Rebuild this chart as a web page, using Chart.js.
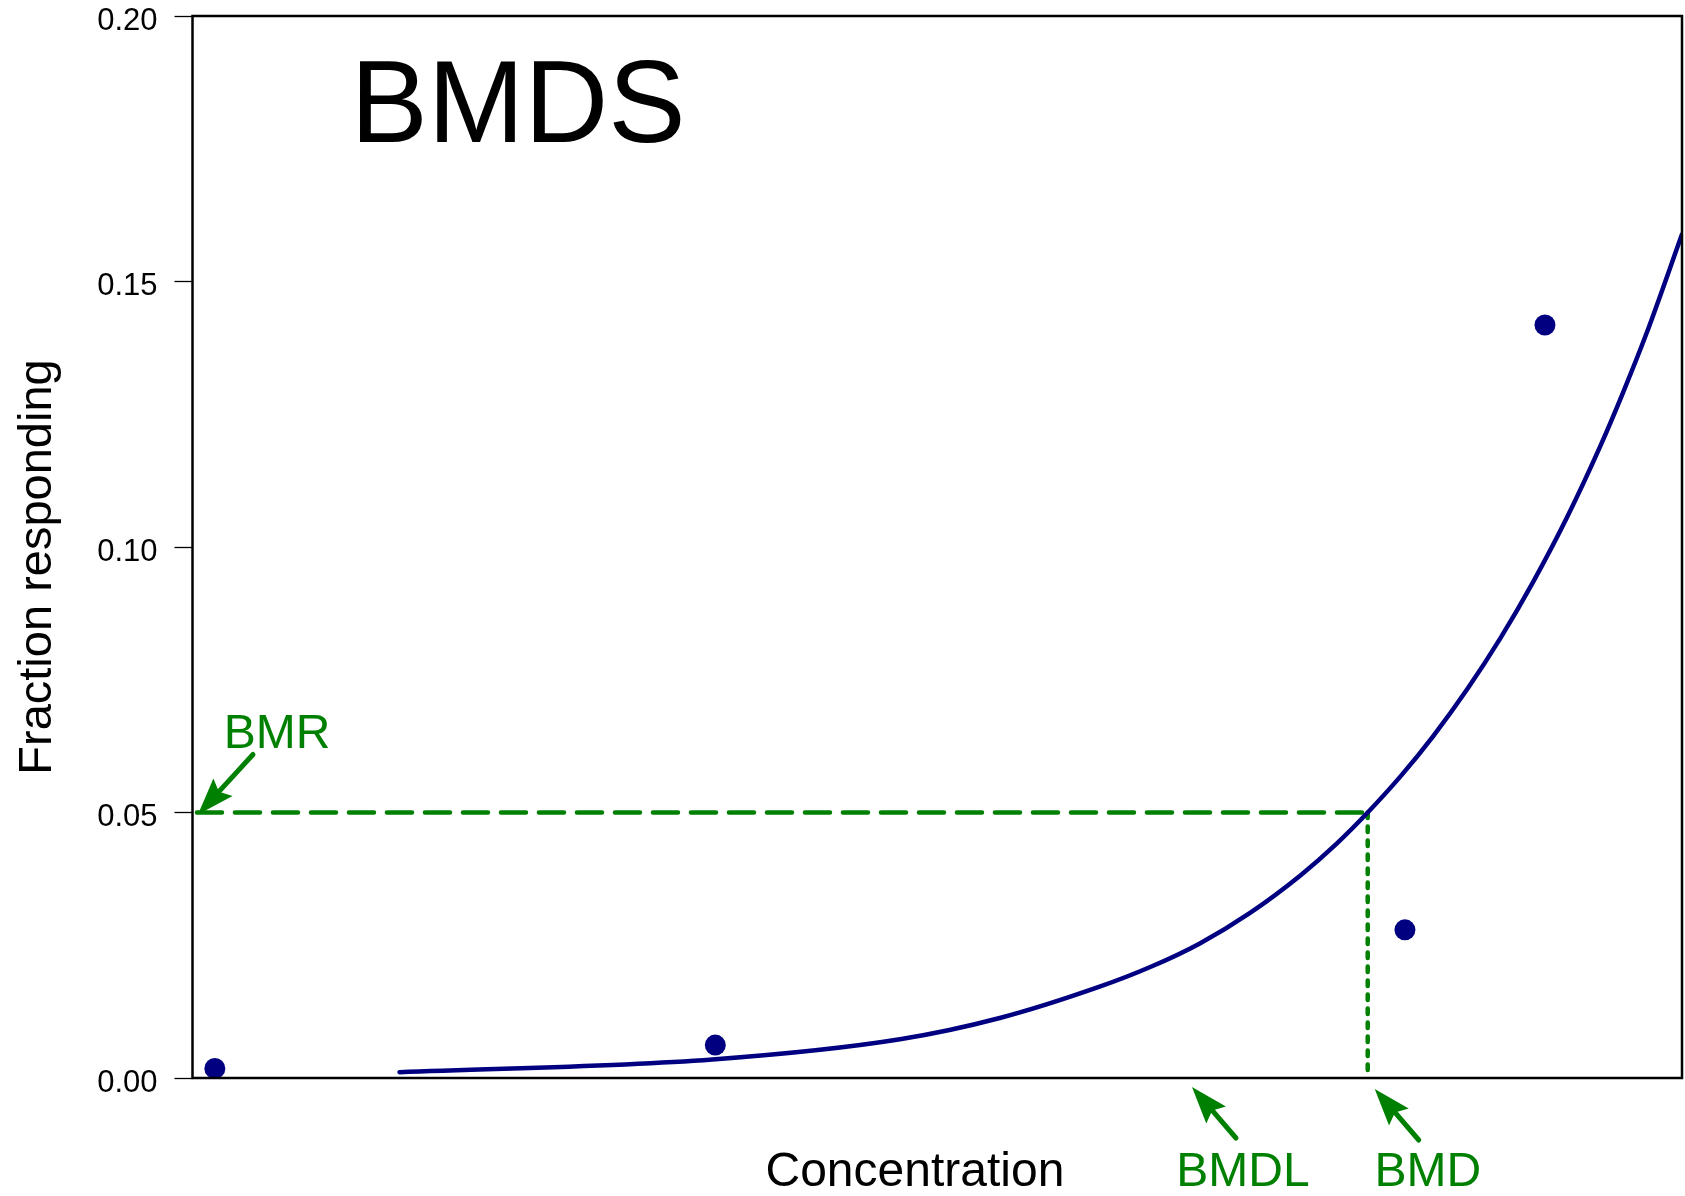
<!DOCTYPE html>
<html>
<head>
<meta charset="utf-8">
<title>BMDS</title>
<script src="https://cdn.jsdelivr.net/npm/chart.js@4.4.1/dist/chart.umd.min.js"></script>
<style>
  html, body { margin: 0; padding: 0; background: #ffffff; overflow: hidden; }
  #wrap { width: 1685px; height: 1196px; }
  canvas { display: block; }
</style>
</head>
<body>
<div id="wrap"><canvas id="bmdsChart" width="1685" height="1196"></canvas></div>
<script>
// observed data (concentration on an arbitrary 0-100 axis, no ticks shown)
const obsConc = [1.5, 35.1, 81.4, 90.8];
const obsFraction = [0.0018, 0.0062, 0.0279, 0.1418];

// fitted model curve
const fitConc = [13.9, 34.9, 47.5, 54.2, 60.9, 64.3, 67.6, 71.0, 74.4, 76.8, 78.9, 81.1, 83.3, 85.6, 87.8, 90.0, 92.3, 94.5, 96.0, 97.6, 100];
const fitFraction = [0.0011, 0.0035, 0.0073, 0.0113, 0.0172, 0.0209, 0.0253, 0.0311, 0.0382, 0.0441, 0.0500, 0.0568, 0.0644, 0.0733, 0.0828, 0.0934, 0.1057, 0.1189, 0.1288, 0.1401, 0.1589];

const yTicks = [0.00, 0.05, 0.10, 0.15, 0.20];

const bmrValue = 0.05;
const bmrStart = 0.3;
const bmdValue = 78.9;
const bmdlValue = 67.1;

const navy = '#000080';
const green = '#008000';
const fontFamily = '"Liberation Sans", Arial, Helvetica, sans-serif';

function toXY(xs, ys) {
    return xs.map((x, i) => ({x: x, y: ys[i]}));
}

function drawArrow(ctx, tipX, tipY, tailX, tailY) {
    const ang = Math.atan2(tipY - tailY, tipX - tailX);
    const headLen = 37, halfW = 13;
    const cos = Math.cos(ang), sin = Math.sin(ang);
    const bx = tipX - headLen * cos, by = tipY - headLen * sin;
    ctx.save();
    ctx.strokeStyle = green;
    ctx.fillStyle = green;
    ctx.lineWidth = 5;
    ctx.lineCap = 'round';
    ctx.beginPath();
    ctx.moveTo(tailX, tailY);
    ctx.lineTo(bx + 6 * cos, by + 6 * sin);
    ctx.stroke();
    ctx.beginPath();
    ctx.moveTo(tipX, tipY);
    ctx.lineTo(bx - halfW * sin, by + halfW * cos);
    ctx.lineTo(bx + 6 * cos, by + 6 * sin);
    ctx.lineTo(bx + halfW * sin, by - halfW * cos);
    ctx.closePath();
    ctx.fill();
    ctx.restore();
}

const annotations = {
    id: 'bmdsAnnotations',
    afterDraw(chart) {
        const ctx = chart.ctx;
        const area = chart.chartArea;
        const xs = chart.scales.x, ys = chart.scales.y;

        // box round the plot
        ctx.save();
        ctx.strokeStyle = '#000000';
        ctx.lineWidth = 2.5;
        ctx.strokeRect(area.left, area.top, area.right - area.left, area.bottom - area.top);
        ctx.restore();

        ctx.save();
        ctx.fillStyle = '#000000';
        ctx.textBaseline = 'alphabetic';

        // big title inside the plot
        ctx.font = '116px ' + fontFamily;
        ctx.textAlign = 'left';
        ctx.fillText('BMDS', area.left + 158, area.top + 126);

        // axis titles
        ctx.font = '48px ' + fontFamily;
        ctx.textAlign = 'center';
        ctx.fillText('Concentration', area.left + (area.right - area.left) * 0.485, area.bottom + 108);

        ctx.save();
        ctx.font = '47px ' + fontFamily;
        ctx.translate(51, (area.top + area.bottom) / 2 + 20);
        ctx.rotate(-Math.PI / 2);
        ctx.fillText('Fraction responding', 0, 0);
        ctx.restore();

        // BMR arrow + label
        const bmrX = xs.getPixelForValue(bmrStart);
        const bmrY = ys.getPixelForValue(bmrValue);
        drawArrow(ctx, bmrX + 1, bmrY + 2, bmrX + 56, bmrY - 58);
        ctx.fillStyle = green;
        ctx.font = '48px ' + fontFamily;
        ctx.fillText('BMR', bmrX + 80, bmrY - 65);

        // BMDL arrow + label
        const bmdlX = xs.getPixelForValue(bmdlValue);
        drawArrow(ctx, bmdlX, area.bottom + 9, bmdlX + 44, area.bottom + 60);
        ctx.fillText('BMDL', bmdlX + 51, area.bottom + 108);

        // BMD arrow + label
        const bmdX = xs.getPixelForValue(bmdValue);
        drawArrow(ctx, bmdX + 7, area.bottom + 11, bmdX + 51, area.bottom + 62);
        ctx.fillText('BMD', bmdX + 60, area.bottom + 108);

        ctx.restore();
    }
};

const chartData = {
    datasets: [
        {
            label: 'Observed',
            type: 'scatter',
            data: toXY(obsConc, obsFraction),
            backgroundColor: navy,
            borderColor: navy,
            borderWidth: 0,
            pointRadius: 10.5,
            pointHoverRadius: 10.5
        },
        {
            label: 'Fitted model',
            type: 'line',
            data: toXY(fitConc, fitFraction),
            borderColor: navy,
            borderWidth: 4.5,
            borderCapStyle: 'round',
            cubicInterpolationMode: 'monotone',
            pointRadius: 0,
            fill: false
        },
        {
            label: 'BMR',
            type: 'line',
            data: [{x: bmrStart, y: bmrValue}, {x: bmdValue, y: bmrValue}],
            borderColor: green,
            borderWidth: 4.5,
            borderDash: [25, 13],
            borderCapStyle: 'round',
            pointRadius: 0,
            fill: false
        },
        {
            label: 'BMD',
            type: 'line',
            data: [{x: bmdValue, y: bmrValue}, {x: bmdValue, y: 0}],
            borderColor: green,
            borderWidth: 4.5,
            borderDash: [5.5, 8.5],
            borderCapStyle: 'round',
            pointRadius: 0,
            fill: false,
            clip: false
        }
    ]
};

new Chart(document.getElementById('bmdsChart').getContext('2d'), {
    type: 'scatter',
    data: chartData,
    options: {
        responsive: false,
        animation: false,
        events: [],
        layout: {
            autoPadding: false,
            padding: {top: 16, right: 3, bottom: 118, left: 0}
        },
        scales: {
            x: {
                type: 'linear',
                display: false,
                min: 0,
                max: 100,
                ticks: { display: false },
                grid: { display: false }
            },
            y: {
                type: 'linear',
                min: 0,
                max: 0.2,
                afterFit: function(scale) {
                    scale.width = 192.5;
                    scale.paddingTop = 0;
                    scale.paddingBottom = 0;
                },
                afterBuildTicks: function(scale) {
                    scale.ticks = yTicks.map(v => ({value: v}));
                },
                border: { display: false },
                grid: {
                    drawOnChartArea: false,
                    drawTicks: true,
                    tickLength: 18,
                    tickColor: '#000000',
                    tickWidth: 1.3
                },
                ticks: {
                    color: '#000000',
                    padding: 17,
                    labelOffset: 5,
                    font: { family: fontFamily, size: 31, lineHeight: 1 },
                    callback: function(value) { return Number(value).toFixed(2); }
                },
                title: { display: false }
            }
        },
        plugins: {
            legend: { display: false },
            title: { display: false },
            tooltip: { enabled: false }
        }
    },
    plugins: [annotations]
});
</script>
</body>
</html>
